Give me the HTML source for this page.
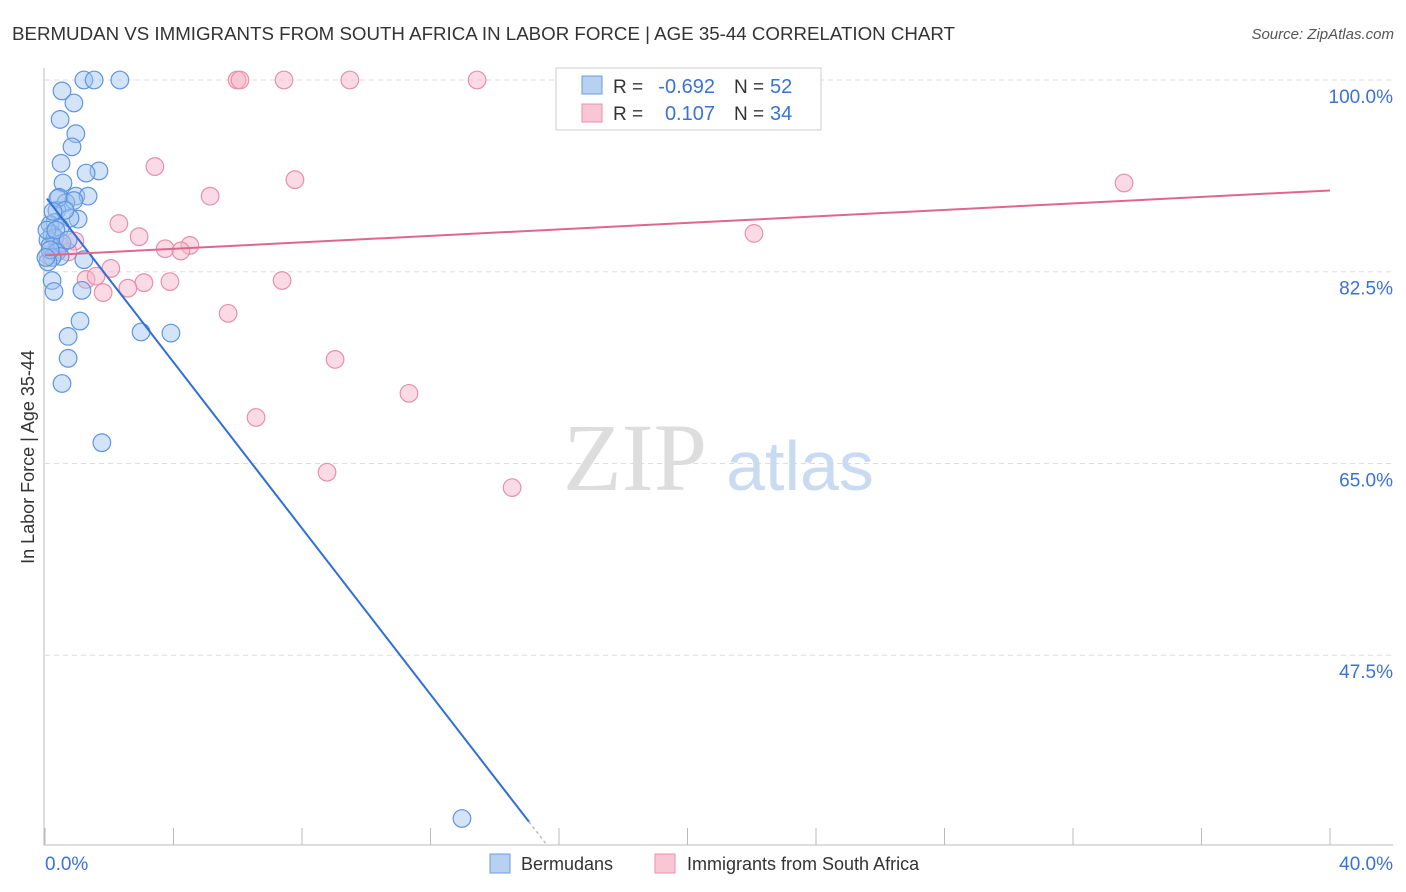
<!DOCTYPE html>
<html><head><meta charset="utf-8"><style>
body{margin:0;background:#fff;font-family:"Liberation Sans",sans-serif;}
</style></head><body>
<svg width="1406" height="892" style="display:block">
<text x="12" y="40" font-size="18" fill="#333" textLength="943" lengthAdjust="spacingAndGlyphs">BERMUDAN VS IMMIGRANTS FROM SOUTH AFRICA IN LABOR FORCE | AGE 35-44 CORRELATION CHART</text>
<text x="1394" y="39" font-size="15" fill="#555" font-style="italic" text-anchor="end">Source: ZipAtlas.com</text>
<g id="grid"></g>
<g>
<text x="635" y="490" font-size="96" fill="#ddd" font-family="Liberation Serif,serif" text-anchor="middle">ZIP</text>
<text x="800" y="490" font-size="70" fill="#c8dbf2" text-anchor="middle">atlas</text></g>
<g id="marks"></g>
<text transform="translate(34,457) rotate(-90)" font-size="18" fill="#333" text-anchor="middle">In Labor Force | Age 35-44</text>
<text x="45" y="870" font-size="19" fill="#3a72d8">0.0%</text>
<text x="1393" y="870" font-size="19" fill="#3a72d8" text-anchor="end">40.0%</text>
<g>
<rect x="556" y="68" width="265" height="62" fill="#fff" stroke="#ccc"/>
<rect x="582" y="76" width="20" height="18" fill="#b8d1f3" stroke="#6a9be0"/>
<rect x="582" y="104" width="20" height="18" fill="#f9c6d5" stroke="#e890aa"/>
<text x="613" y="93" font-size="19" fill="#333">R =</text>
<text x="715" y="93" font-size="20" fill="#3a72d8" text-anchor="end">-0.692</text>
<text x="734" y="93" font-size="19" fill="#333">N =</text>
<text x="770" y="93" font-size="20" fill="#3a72d8">52</text>
<text x="613" y="120" font-size="19" fill="#333">R =</text>
<text x="715" y="120" font-size="20" fill="#3a72d8" text-anchor="end">0.107</text>
<text x="734" y="120" font-size="19" fill="#333">N =</text>
<text x="770" y="120" font-size="20" fill="#3a72d8">34</text>
</g>
<g><rect x="490" y="854" width="20" height="19" fill="#b8d1f3" stroke="#6a9be0"/><text x="521" y="870" font-size="18" fill="#333">Bermudans</text></g>
<g><rect x="655" y="854" width="20" height="19" fill="#f9c6d5" stroke="#e890aa"/><text x="687" y="870" font-size="18" fill="#333">Immigrants from South Africa</text></g>
</svg>
<script>
const blueX=[1.21,1.53,2.33,0.53,0.90,0.47,0.96,0.84,0.50,1.68,1.28,0.56,0.44,0.96,1.34,0.65,0.90,0.37,1.03,0.78,0.31,0.16,0.47,0.22,0.09,0.31,0.16,0.53,0.37,0.47,0.22,1.21,0.09,0.22,0.28,1.15,1.09,0.72,0.72,0.53,2.99,3.92,1.77,12.98,0.40,0.06,0.16,0.62,0.25,0.03,0.34,0.72];
const blueY=[100,100,100,99.0,97.9,96.4,95.1,93.9,92.4,91.7,91.5,90.6,89.3,89.4,89.4,88.8,89.0,88.1,87.3,87.4,87.0,86.8,86.5,85.9,85.4,85.6,84.9,85.1,84.3,83.9,83.8,83.6,83.4,81.7,80.7,80.8,78.0,76.6,74.6,72.3,77.0,76.9,66.9,32.6,89.2,86.3,84.5,88.1,88.0,83.8,86.3,85.4];
const pinkX=[5.98,6.07,7.44,9.49,13.45,3.42,7.78,5.14,33.59,2.30,2.93,22.07,3.74,4.51,4.23,0.93,0.47,0.72,0.34,2.05,1.28,1.59,7.38,3.08,3.89,1.81,2.58,5.70,9.03,11.33,6.57,8.78,14.54,0.09];
const pinkY=[100,100,100,100,100,92.1,90.9,89.4,90.6,86.9,85.7,86.0,84.6,84.9,84.4,85.3,84.9,84.3,84.5,82.8,81.8,82.1,81.7,81.5,81.6,80.6,81.0,78.7,74.5,71.4,69.2,64.2,62.8,84.0];
const yTicks=[100,82.5,65,47.5];
const yTickLabels=["100.0%","82.5%","65.0%","47.5%"];
const blueTrend=[89.4,-3.79];
const pinkTrend=[84.0,0.148];
const xs=v=>45+v*(1285/40);
const ys=v=>80+(100-v)*10.957;
const NS="http://www.w3.org/2000/svg";
const grid=document.getElementById('grid'),marks=document.getElementById('marks');
function mk(p,tag,a){const e=document.createElementNS(NS,tag);for(const k in a)e.setAttribute(k,a[k]);p.appendChild(e);return e;}
yTicks.forEach((t,i)=>{
 const l=mk(grid,'line',{x1:45,x2:1393,y1:ys(t),y2:ys(t),stroke:'#ddd','stroke-dasharray':'5,4'});
 
 
 const tx=mk(grid,'text',{x:1393,y:ys(t)+23,'font-size':19,fill:'#3a72d8','text-anchor':'end'});
 tx.textContent=yTickLabels[i];
 
 
});
const ax=mk(grid,'path',{d:'M44 68 V845 H1393',stroke:'#bbb',fill:'none'});


for(let i=0;i<=10;i++){const x=xs(i*4);const t=mk(grid,'line',{x1:x,x2:x,y1:828,y2:845,stroke:'#bbb'});
 
 }
function dots(X,Y,fill,stroke,name){X.forEach((x,i)=>{const c=mk(marks,'circle',{cx:xs(x),cy:ys(Y[i]),r:8.8,fill:fill,stroke:stroke,'stroke-width':1.2});
 
 });}
dots(pinkX,pinkY,'rgba(246,182,202,0.5)','#e890aa','immigrant-point');
dots(blueX,blueY,'rgba(160,196,240,0.45)','#5f95e0','bermudan-point');
const bEnd=(32.3-blueTrend[0])/blueTrend[1], bDash=(30.2-blueTrend[0])/blueTrend[1];
const bl=mk(marks,'line',{x1:xs(0.06),y1:ys(blueTrend[0]+blueTrend[1]*0.06),x2:xs(bEnd),y2:ys(32.3),stroke:'#2f6fd6','stroke-width':2});


const bd=mk(marks,'line',{x1:xs(bEnd),y1:ys(32.3),x2:xs(bDash),y2:ys(30.2),stroke:'#bbb','stroke-width':1.5,'stroke-dasharray':'3,3'});


const pl=mk(marks,'line',{x1:xs(0),y1:ys(pinkTrend[0]),x2:xs(40),y2:ys(pinkTrend[0]+pinkTrend[1]*40),stroke:'#e06690','stroke-width':2});


</script>
</body></html>
